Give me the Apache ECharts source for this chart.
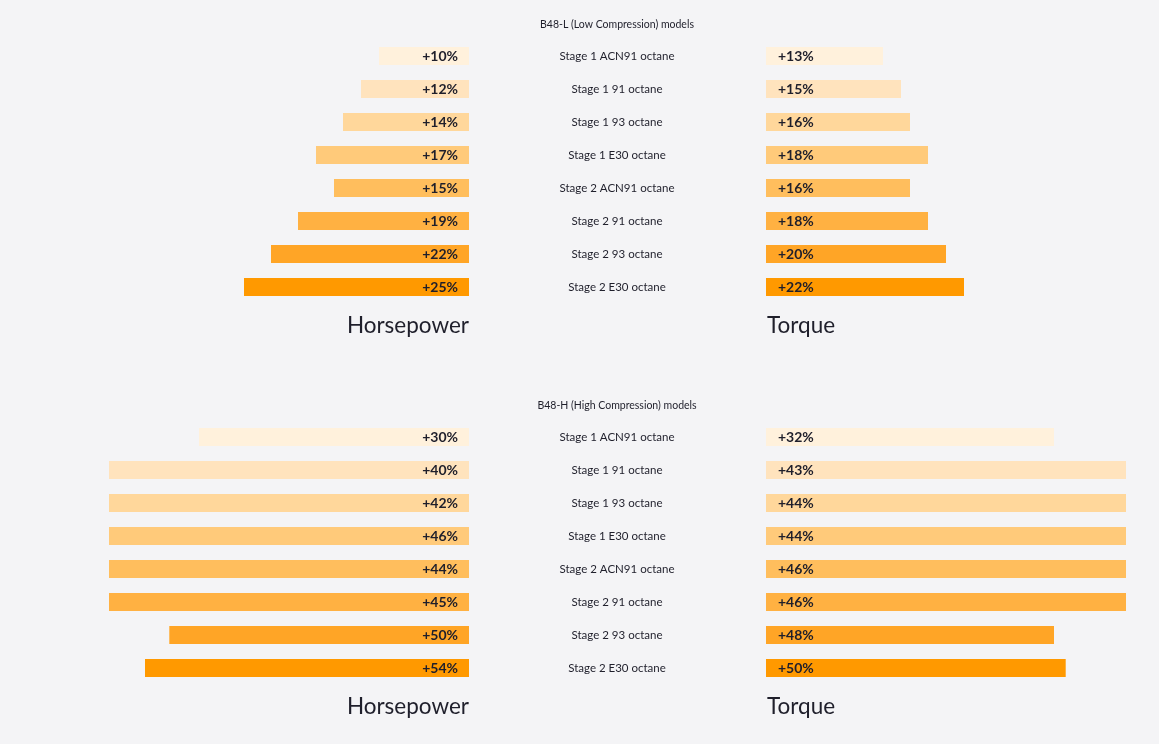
<!DOCTYPE html>
<html>
<head>
<meta charset="utf-8">
<script src="https://cdn.jsdelivr.net/npm/echarts@6/dist/echarts.min.js"></script>
<style>
html,body{margin:0;padding:0;background:#f4f4f6;}
#chart{width:1159px;height:744px;}
</style>
</head>
<body>
<div id="chart"></div>
<script>
const categories = ["Stage 1 ACN91 octane","Stage 1 91 octane","Stage 1 93 octane","Stage 1 E30 octane","Stage 2 ACN91 octane","Stage 2 91 octane","Stage 2 93 octane","Stage 2 E30 octane"];
const panelTitles = ["B48-L (Low Compression) models","B48-H (High Compression) models"];
// percentage labels shown
const hpLowPct = [10,12,14,17,15,19,22,25];
const tqLowPct = [13,15,16,18,16,18,20,22];
const hpHighPct = [30,40,42,46,44,45,50,54];
const tqHighPct = [32,43,44,44,46,46,48,50];
// drawn bar lengths (same % scale)
const hpLowBar = [10,12,14,17,15,19,22,25];
const tqLowBar = [13,15,16,18,16,18,20,22];
const hpHighBar = [30,40,40,40,40,40,33.3,36];
const tqHighBar = [32,40,40,40,40,40,32,33.3];
const rowColors = ["#fff1dc","#ffe3bd","#ffd79b","#ffca7a","#ffbe5d","#ffb142","#ffa526","#ff9900"];

const FONT = "Lato, 'Open Sans', sans-serif";
const textColor = "#1f1f2b";
const tops = [39.5, 420.5];

const grids = [], xAxes = [], yAxes = [], series = [];
function addPanel(p, hpBar, hpPct, tqBar, tqPct){
  const gl = grids.length;
  grids.push({left:109, top:tops[p], width:360, height:264});
  grids.push({left:766, top:tops[p], width:360, height:264});
  xAxes.push({gridIndex:gl, type:'value', min:0, max:40, inverse:true, show:false});
  xAxes.push({gridIndex:gl+1, type:'value', min:0, max:40, show:false});
  yAxes.push({gridIndex:gl, type:'category', data:categories, inverse:true, show:false});
  yAxes.push({gridIndex:gl+1, type:'category', data:categories, inverse:true,
    axisLine:{show:false}, axisTick:{show:false}, splitLine:{show:false},
    axisLabel:{margin:149, align:'center', fontFamily:FONT, fontSize:11.5, color:textColor}});
  const mk = (vals, pcts) => vals.map((v,i)=>({value:v, itemStyle:{color:rowColors[i]},
    label:{formatter:'+'+pcts[i]+'%'}}));
  series.push({type:'bar', xAxisIndex:gl, yAxisIndex:gl, barWidth:18, silent:true,
    data:mk(hpBar,hpPct),
    label:{show:true, position:'insideRight', distance:11, fontFamily:FONT, fontSize:14, fontWeight:'bold', color:textColor}});
  series.push({type:'bar', xAxisIndex:gl+1, yAxisIndex:gl+1, barWidth:18, silent:true,
    data:mk(tqBar,tqPct),
    label:{show:true, position:'insideLeft', distance:12, fontFamily:FONT, fontSize:14, fontWeight:'bold', color:textColor}});
}
addPanel(0, hpLowBar, hpLowPct, tqLowBar, tqLowPct);
addPanel(1, hpHighBar, hpHighPct, tqHighBar, tqHighPct);

const titleY = [24.5, 405.5];
const labelY = [325, 706];
const graphics = [];
for (let p=0;p<2;p++){
  graphics.push({type:'text', x:617, y:titleY[p], style:{text:panelTitles[p], font:"10.5px "+FONT, fill:textColor, textAlign:'center', textVerticalAlign:'middle'}});
  graphics.push({type:'text', x:469, y:labelY[p]+1, style:{text:'Horsepower', font:"22.5px "+FONT, fill:textColor, textAlign:'right', textVerticalAlign:'middle'}});
  graphics.push({type:'text', x:767, y:labelY[p]+1, style:{text:'Torque', font:"22.5px "+FONT, fill:textColor, textAlign:'left', textVerticalAlign:'middle'}});
}

const chart = echarts.init(document.getElementById('chart'));
chart.setOption({
  backgroundColor:'#f4f4f6',
  animation:false,
  grid:grids, xAxis:xAxes, yAxis:yAxes, series:series,
  graphic:graphics
});
</script>
</body>
</html>
